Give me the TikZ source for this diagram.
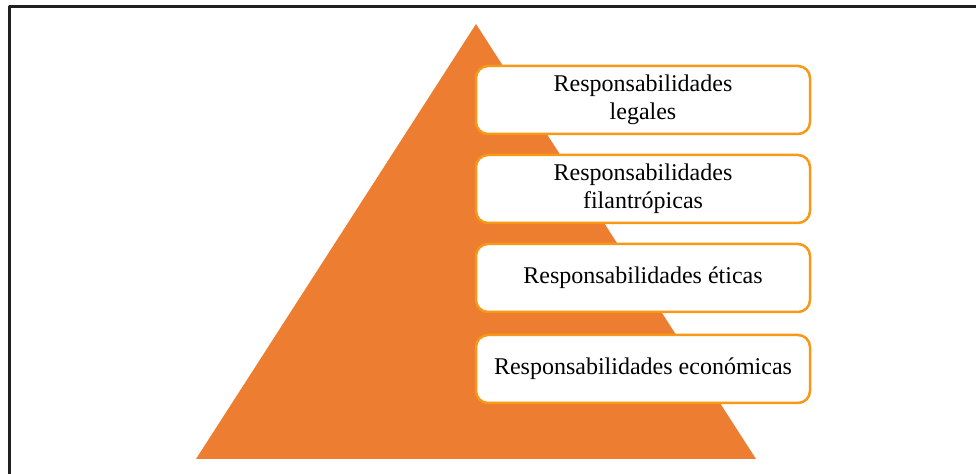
\documentclass[tikz,border=0pt]{standalone}
\usepackage{fontspec}
\setmainfont{Liberation Serif}
\definecolor{Pyr}{RGB}{237, 125, 49}
\definecolor{Bx}{RGB}{247, 152, 22}
\definecolor{Fr}{RGB}{35, 31, 32}

\begin{document}
\begin{tikzpicture}[x=0.5pt, y=-0.5pt, line join=round,
  respbox/.style={draw=Bx, line width=1.25pt, fill=white, rounded corners=6pt,
    minimum width=167pt, minimum height=34pt, inner sep=0pt, align=center,
    font=\fontsize{12}{14}\selectfont}]
  \useasboundingbox (0,0) rectangle (976,474);

  % frame
  \draw[Fr, line width=1.5pt] (9,474) -- (9,7) -- (976,7);

  % pyramid
  \fill[Pyr] (196,459) -- (756,459) -- (476,24) -- cycle;

  % Labels array
  \def\labels#1{\ifcase#1 Responsabilidades\\legales\or Responsabilidades\\filantrópicas\or Responsabilidades éticas\or Responsabilidades económicas\fi}

  % Heights array
  \def\ys#1{\ifcase#1 100\or 189\or 278\or 369\fi}

  \foreach \i in {0,...,3}{
    \pgfmathsetmacro{\yy}{\ys{\i}}
    \node[respbox] (resp\i) at (643,\yy) {\labels{\i}};
  }

\end{tikzpicture}
\end{document}
